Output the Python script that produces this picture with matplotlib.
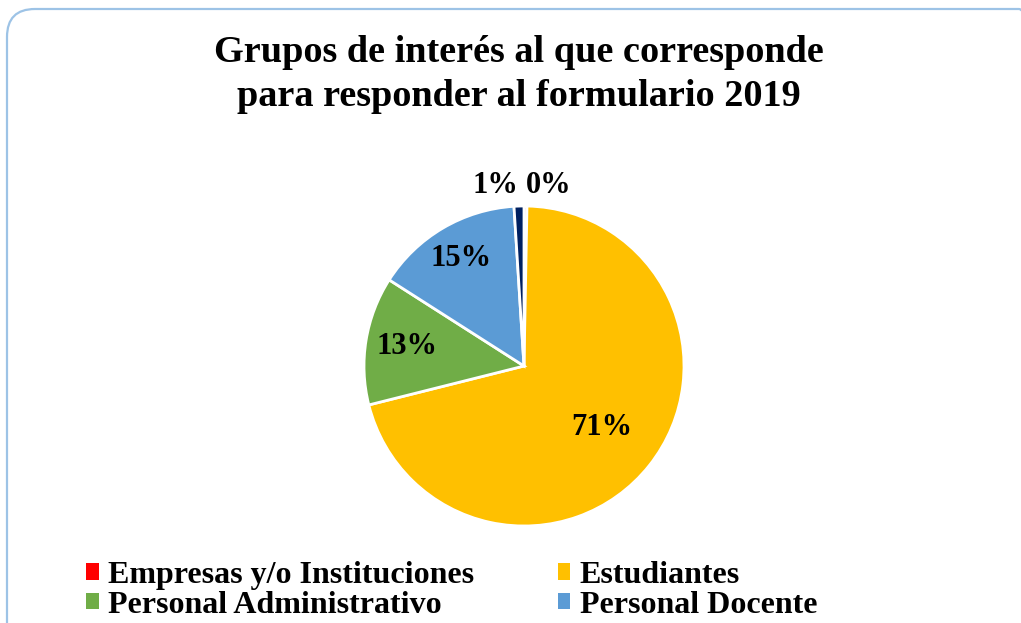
import numpy as np
import matplotlib
matplotlib.use("Agg")
import matplotlib.pyplot as plt
from matplotlib.patches import Patch, FancyBboxPatch
from matplotlib.transforms import IdentityTransform

# datos del grafico
categorias = ["Empresas y/o Instituciones", "Estudiantes", "Personal Administrativo",
              "Personal Docente", "Egresados"]
valores = [0.3, 71, 13, 15, 1]
etiquetas = ["0%", "71%", "13%", "15%", "1%"]
colores = ["#FF0000", "#FFC000", "#70AD47", "#5B9BD5", "#002060"]
distancias = [1.13, 0.62, 0.74, 0.78, 1.13]

plt.rcParams['font.family'] = ['Liberation Serif', 'DejaVu Serif']
plt.rcParams['font.weight'] = 'bold'

W, H = 1021, 623
fig = plt.figure(figsize=(W / 100, H / 100), dpi=100)

# borde redondeado
borde = FancyBboxPatch((7, -30), 1040, 614 + 30, boxstyle="round,pad=0,rounding_size=28",
                       transform=IdentityTransform(), facecolor="none",
                       edgecolor="#9DC3E6", linewidth=1.6, clip_on=False, zorder=-1)
fig.patches.append(borde)

cx, cy, r = 524, 623 - 366, 160
ax = fig.add_axes([(cx - r) / W, (cy - r) / H, 2 * r / W, 2 * r / H])
wedges, _ = ax.pie(valores, colors=colores, startangle=90, counterclock=False,
                   wedgeprops=dict(edgecolor="white", linewidth=2))
ax.set_xlim(-1, 1)
ax.set_ylim(-1, 1)
ax.set_aspect("equal")
ax.axis("off")

for i, w in enumerate(wedges):
    ang = np.deg2rad((w.theta1 + w.theta2) / 2)
    d = distancias[i]
    x, y = d * np.cos(ang), d * np.sin(ang)
    ha = "center"
    if i == 0:
        ha = "left"
    elif i == 4:
        ha = "right"
    ax.text(x, y, etiquetas[i], ha=ha, va="center", fontsize=22, fontweight="bold",
            clip_on=False)

fig.text(519 / W, 1 - 52 / H, "Grupos de interés al que corresponde",
         ha="center", va="center", fontsize=27.5, fontweight="bold")
fig.text(519 / W, 1 - 97 / H, "para responder al formulario 2019",
         ha="center", va="center", fontsize=27.5, fontweight="bold")

orden = [0, 2, 1, 3]
handles = [Patch(facecolor=colores[i], edgecolor="none") for i in orden]
fig.legend(handles, [categorias[i] for i in orden], loc="upper left", ncol=2,
           bbox_to_anchor=(70 / W, 1 - 545 / H), frameon=False,
           prop=dict(size=23, weight="bold"), handlelength=0.4, handleheight=0.4,
           handletextpad=0.3, columnspacing=2.6, labelspacing=0.02, borderpad=0)

fig.savefig("out.png", dpi=100)
